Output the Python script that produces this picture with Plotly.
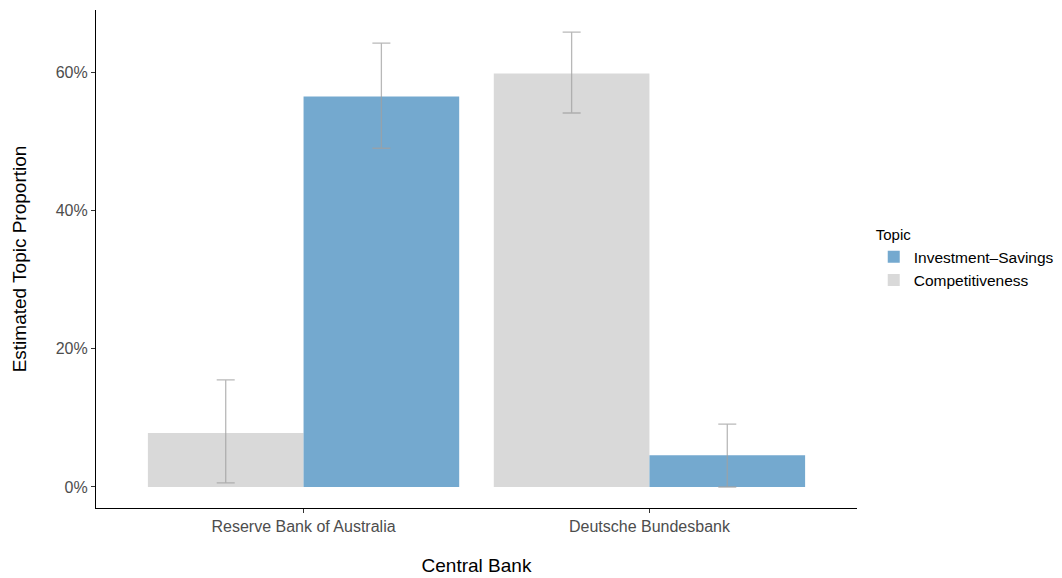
import plotly.graph_objects as go

banks = ["Reserve Bank of Australia", "Deutsche Bundesbank"]
comp_vals = [0.078, 0.598]
comp_hi = [0.155, 0.658]
comp_lo = [0.006, 0.541]
inv_vals = [0.565, 0.046]
inv_hi = [0.642, 0.091]
inv_lo = [0.490, 0.0]

err_color = "rgba(160,160,160,0.75)"

def err(vals, hi, lo):
    return dict(type="data", symmetric=False,
                array=[h - v for h, v in zip(hi, vals)],
                arrayminus=[v - l for v, l in zip(vals, lo)],
                color=err_color, thickness=1.3, width=9)

fig = go.Figure()
fig.add_trace(go.Bar(name="Competitiveness", x=banks, y=comp_vals,
                     marker=dict(color="#d9d9d9", line=dict(width=0)),
                     error_y=err(comp_vals, comp_hi, comp_lo)))
fig.add_trace(go.Bar(name="Investment\u2013Savings", x=banks, y=inv_vals,
                     marker=dict(color="#74a9cf", line=dict(width=0)),
                     error_y=err(inv_vals, inv_hi, inv_lo)))

font_family = "Liberation Sans, Arial, Helvetica, sans-serif"
fig.update_layout(
    barmode="group", bargap=0.1, bargroupgap=0,
    width=1054, height=570,
    margin=dict(l=88, r=205, t=2, b=70, autoexpand=False),
    plot_bgcolor="white", paper_bgcolor="white",
    font=dict(family=font_family, color="black", size=16),
    legend=dict(title=dict(text="Topic", font=dict(size=15)),
                traceorder="reversed", x=1.022, y=0.577, xanchor="left", yanchor="top",
                font=dict(size=15.5), itemwidth=30, bgcolor="rgba(0,0,0,0)"),
    showlegend=True,
)
fig.update_xaxes(range=[-0.6, 1.6], showline=True, linecolor="black", linewidth=1.2,
                 ticks="outside", ticklen=4, tickcolor="#333333",
                 tickfont=dict(size=16, color="#4d4d4d"), automargin=False,
                 title=dict(text="Central Bank", font=dict(size=19, color="black"), standoff=24),
                 showgrid=False, zeroline=False)
fig.update_yaxes(range=[-0.0304, 0.69], showline=True, linecolor="black", linewidth=1.2,
                 ticks="outside", ticklen=4, tickcolor="#333333",
                 tickvals=[0, 0.2, 0.4, 0.6], tickformat=".0%",
                 tickfont=dict(size=16, color="#4d4d4d"), automargin=False,
                 title=dict(text="Estimated Topic Proportion", font=dict(size=19, color="black"), standoff=24),
                 showgrid=False, zeroline=False)

fig.write_html("out.html")
